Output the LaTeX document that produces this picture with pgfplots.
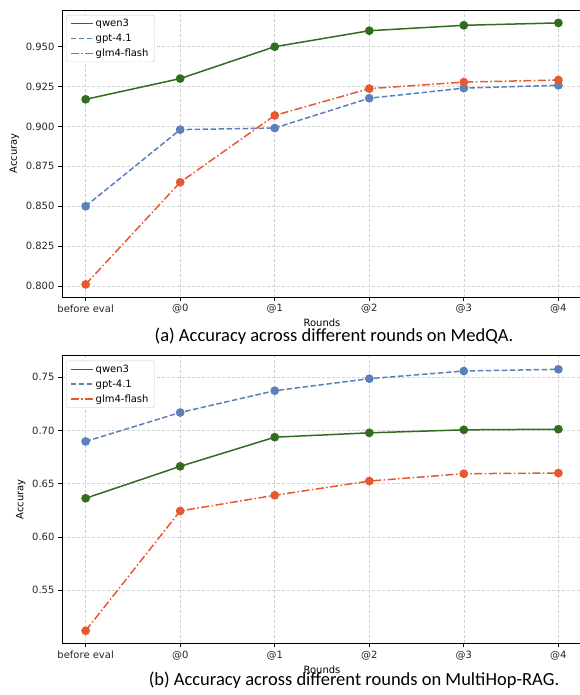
\documentclass[border=0pt]{standalone}
\usepackage{fontspec}
\setmainfont{DejaVu Sans}
\newfontfamily\capfont{Carlito}
\usepackage{pgfplots}
\pgfplotsset{compat=1.18}
\definecolor{cqwen}{RGB}{50,108,30}
\definecolor{cgpt}{RGB}{92,128,184}
\definecolor{cglm}{RGB}{232,88,46}
\pgfplotsset{
  myaxis/.style={
    scale only axis,
    width=520pt,
    xmin=-0.25, xmax=5.25,
    xtick={0,1,2,3,4,5},
    xticklabels={before eval,@0,@1,@2,@3,@4},
    tick pos=left,
    tick align=outside,
    major tick length=4pt,
    tick style={black, line width=0.7pt},
    axis line style={line width=0.8pt},
    grid=major,
    major grid style={dash pattern=on 3pt off 2pt, color=black!18, line width=0.6pt},
    every tick label/.append style={font=\fontsize{10}{12}\selectfont, text=black!85},
    /pgf/number format/assume math mode=true,
    xlabel={Rounds}, ylabel={Accuray},
    label style={font=\fontsize{10}{12}\selectfont},
    xlabel style={at={(axis description cs:0.5,0)}, anchor=center, yshift=-26pt},
    legend cell align=left,
    legend style={at={(0,1)}, anchor=north west, xshift=4pt, yshift=-5pt,
      draw=black!20, rounded corners=2pt, fill=white,
      font=\fontsize{10}{12}\selectfont, inner xsep=4pt, inner ysep=2pt, row sep=2pt},
    legend image code/.code={\draw[##1, line width=1.5pt] (0pt,0pt) -- (22pt,0pt);},
  },
  qwen/.style={color=cqwen, solid, line width=1.5pt, mark=*, mark size=3.6pt, mark options={solid, fill=cqwen, draw=cqwen}},
  gpt/.style={color=cgpt, dash pattern=on 5.5pt off 2.5pt, line width=1.5pt, mark=*, mark size=3.6pt, mark options={solid, fill=cgpt, draw=cgpt}},
  glm/.style={color=cglm, dash pattern=on 8pt off 2.5pt on 1.5pt off 2.5pt, line width=1.5pt, mark=*, mark size=3.6pt, mark options={solid, fill=cglm, draw=cglm}},
}
\begin{document}
\begin{tikzpicture}
\useasboundingbox (0,0) rectangle (579pt,695pt);
\begin{axis}[myaxis,
  at={(62pt,398pt)}, anchor=south west,
  height=287pt,
  ymin=0.7931, ymax=0.973,
  ytick={0.800,0.825,0.850,0.875,0.900,0.925,0.950},
  yticklabels={0.800,0.825,0.850,0.875,0.900,0.925,0.950},
]
\addplot[qwen] coordinates {(0,0.917) (1,0.930) (2,0.950) (3,0.960) (4,0.9634) (5,0.9649)};
\addlegendentry{qwen3}
\addplot[gpt] coordinates {(0,0.850) (1,0.898) (2,0.899) (3,0.9177) (4,0.924) (5,0.9258)};
\addlegendentry{gpt-4.1}
\addplot[glm] coordinates {(0,0.801) (1,0.865) (2,0.9069) (3,0.9237) (4,0.9278) (5,0.9291)};
\addlegendentry{glm4-flash}
\end{axis}
\begin{axis}[myaxis,
  at={(62pt,51.7pt)}, anchor=south west,
  height=287.6pt,
  ymin=0.500, ymax=0.7703,
  ytick={0.55,0.60,0.65,0.70,0.75},
  yticklabels={0.55,0.60,0.65,0.70,0.75},
]
\addplot[qwen] coordinates {(0,0.6363) (1,0.6663) (2,0.6937) (3,0.6978) (4,0.7006) (5,0.7012)};
\addlegendentry{qwen3}
\addplot[gpt] coordinates {(0,0.6897) (1,0.7169) (2,0.7374) (3,0.7487) (4,0.7559) (5,0.7575)};
\addlegendentry{gpt-4.1}
\addplot[glm] coordinates {(0,0.5118) (1,0.6244) (2,0.6391) (3,0.6525) (4,0.6594) (5,0.6600)};
\addlegendentry{glm4-flash}
\end{axis}
\node[anchor=base, inner sep=0pt, font=\capfont\fontsize{18.5}{22}\selectfont] at (334pt,353pt) {(a) Accuracy across different rounds on MedQA.};
\node[anchor=base, inner sep=0pt, font=\capfont\fontsize{18.5}{22}\selectfont] at (354pt,9.5pt) {(b) Accuracy across different rounds on MultiHop-RAG.};
\end{tikzpicture}
\end{document}
